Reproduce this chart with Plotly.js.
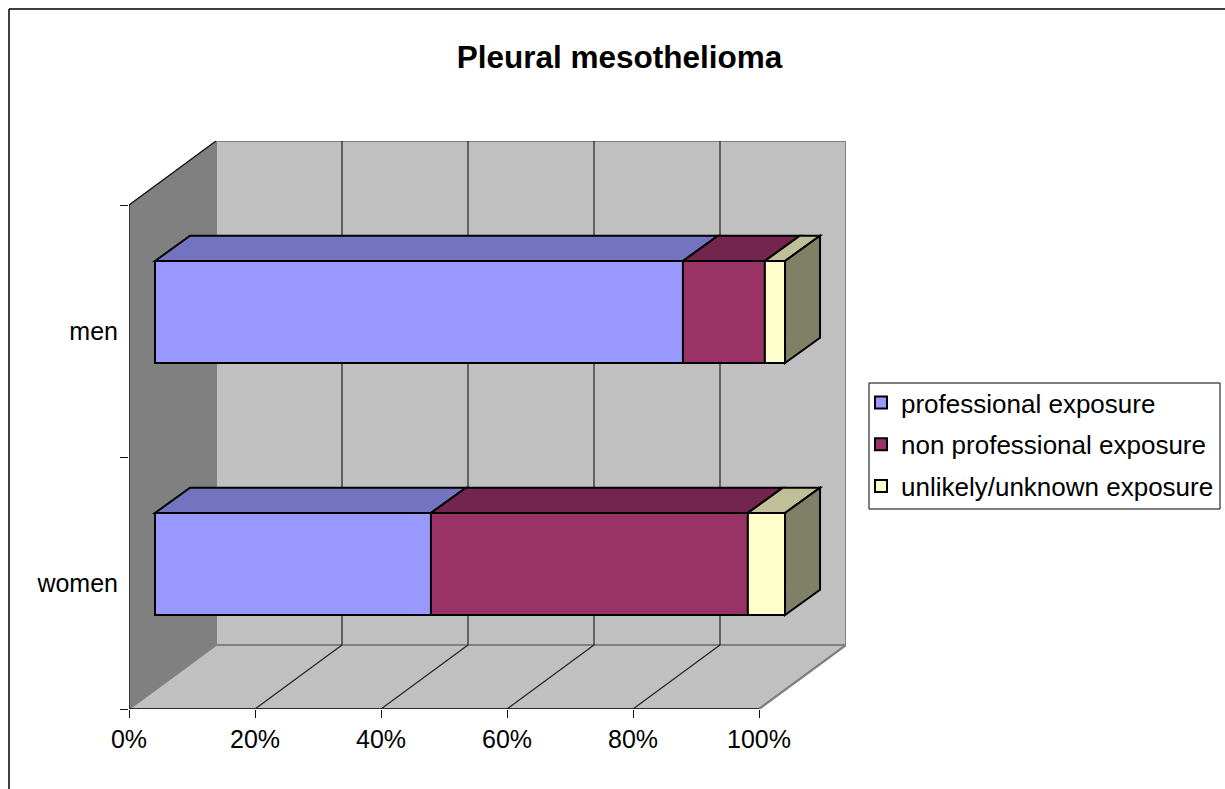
<!DOCTYPE html>
<html>
<head>
<meta charset="utf-8">
<script src="https://cdn.plot.ly/plotly-3.0.1.min.js"></script>
<style>html,body{margin:0;padding:0;background:#fff}#chart{width:1225px;height:789px}</style>
</head>
<body>
<div id="chart"></div>
<script>
// Data
const categories = ['women', 'men'];
const professional = [43.8, 83.8];
const nonProfessional = [50.3, 13.0];
const unlikely = [5.9, 3.2];
const seriesNames = ['professional exposure', 'non professional exposure', 'unlikely/unknown exposure'];
const xTicks = [0, 20, 40, 60, 80, 100];
const xTickLabels = ['0%', '20%', '40%', '60%', '80%', '100%'];

// Style
const frontColors = ['#9999FF', '#993366', '#FFFFCC'];
const topColors = ['#7373BF', '#73264D', '#BFBF99'];
const sideColor = '#808066';
const FONT = '"Liberation Sans", Arial, sans-serif';
const wallDX = 13.81, wallDY = 0.254;      // chart depth in axis units
const barShiftX = 4.13, barShiftY = 0.0754; // bars' front plane
const barDX = 5.56, barDY = 0.1;           // bar depth
const barH = 0.405;

const series = [professional, nonProfessional, unlikely];
const shapes = [];
function poly(pts, fill, lineColor, lineWidth, layer) {
  const path = pts.map((p, i) => (i ? 'L' : 'M') + p[0] + ',' + p[1]).join(' ') + ' Z';
  shapes.push({type: 'path', xref: 'x', yref: 'y', path, fillcolor: fill, layer: layer || 'below',
    line: {color: lineColor, width: lineWidth}});
}
function seg(x0, y0, x1, y1, color, width, layer) {
  shapes.push({type: 'line', xref: 'x', yref: 'y', x0, y0, x1, y1, layer: layer || 'below',
    line: {color, width}});
}
const yBot = -0.5, yTop = 1.5;
// walls
poly([[wallDX, yBot + wallDY], [100 + wallDX, yBot + wallDY], [100 + wallDX, yTop + wallDY], [wallDX, yTop + wallDY]], '#C0C0C0', '#808080', 2);
poly([[0, yBot], [100, yBot], [100 + wallDX, yBot + wallDY], [wallDX, yBot + wallDY]], '#C0C0C0', '#808080', 2);
poly([[0, yBot], [wallDX, yBot + wallDY], [wallDX, yTop + wallDY], [0, yTop]], '#808080', '#808080', 1);
// gridlines
xTicks.slice(1, -1).forEach(t => {
  seg(t + wallDX, yBot + wallDY, t + wallDX, yTop + wallDY, '#222222', 1.2);
  seg(t, yBot, t + wallDX, yBot + wallDY, '#222222', 1.2);
});
seg(100, yBot, 100 + wallDX, yBot + wallDY, '#808080', 2);
seg(0, yBot, 0, yTop, '#111111', 1.3);
seg(0, yTop, wallDX, yTop + wallDY, '#111111', 1.3);
seg(0, yBot, 100, yBot, '#111111', 1.5);

// 3D faces of bars
categories.forEach((c, i) => {
  const b = i - barH / 2 + barShiftY, t = i + barH / 2 + barShiftY;
  let cum = barShiftX;
  series.forEach((s, k) => {
    const x0 = cum, x1 = cum + s[i];
    poly([[x0, t], [x1, t], [x1 + barDX, t + barDY], [x0 + barDX, t + barDY]], topColors[k], '#000000', 2, 'above');
    cum = x1;
  });
  poly([[cum, b], [cum + barDX, b + barDY], [cum + barDX, t + barDY], [cum, t]], sideColor, '#000000', 2, 'above');
});

// frame of the whole chart (paper coordinates)
shapes.push({type: 'line', xref: 'paper', yref: 'paper', x0: -120 / 717, x1: 1216 / 717, y0: 700 / 568, y1: 700 / 568,
  line: {color: '#000000', width: 1.5}});
shapes.push({type: 'line', xref: 'paper', yref: 'paper', x0: -120 / 717, x1: -120 / 717, y0: -80 / 568, y1: 700 / 568,
  line: {color: '#000000', width: 1.5}});
// legend box
shapes.push({type: 'rect', xref: 'paper', yref: 'paper', x0: 740 / 717, x1: 1091 / 717, y0: 200 / 568, y1: 326 / 568,
  line: {color: '#000000', width: 1}});

const traces = series.map((s, k) => ({
  type: 'bar', orientation: 'h', name: seriesNames[k], y: categories, x: s,
  base: s.map((_, i) => barShiftX + series.slice(0, k).reduce((a, r) => a + r[i], 0)),
  width: barH, offset: -barH / 2 + barShiftY,
  legendgroup: 'g' + k,
  marker: {color: frontColors[k], line: {color: '#000000', width: 2}},
  hoverinfo: 'name+x+y'
}));

const layout = {
  width: 1225, height: 789,
  margin: {l: 129, r: 379, t: 141, b: 80, pad: 0},
  paper_bgcolor: '#ffffff', plot_bgcolor: 'rgba(0,0,0,0)',
  font: {family: FONT, size: 25, color: '#000000'},
  title: {text: '<b>Pleural mesothelioma</b>', font: {family: FONT, size: 31.5, color: '#000000'},
    x: 619.5 / 1225, xref: 'container', xanchor: 'center', y: 1 - 57 / 789, yref: 'container', yanchor: 'middle'},
  barmode: 'overlay',
  xaxis: {type: 'linear', range: [0, 113.81], tickvals: xTicks, ticktext: xTickLabels, ticks: 'outside', ticklen: 8,
    tickcolor: '#111111', tickwidth: 1.3, showgrid: false, zeroline: false, showline: false,
    tickfont: {family: FONT, size: 25}},
  yaxis: {type: 'category', categoryorder: 'array', categoryarray: categories, range: [-0.5, 1.754],
    tickson: 'boundaries', ticks: 'outside', ticklen: 8, tickcolor: '#111111', tickwidth: 1.3, ticklabelstandoff: 10,
    showgrid: false, zeroline: false, showline: false, tickfont: {family: FONT, size: 25}},
  showlegend: true,
  legend: {xref: 'container', yref: 'container', x: 861 / 1225, xanchor: 'left', y: 1 - 379 / 789, yanchor: 'top', bgcolor: 'rgba(0,0,0,0)',
    borderwidth: 0, font: {family: FONT, size: 26}, traceorder: 'grouped', tracegroupgap: 5, itemclick: false},
  shapes
};
Plotly.newPlot('chart', traces, layout, {displayModeBar: false, staticPlot: false});
</script>
</body>
</html>
